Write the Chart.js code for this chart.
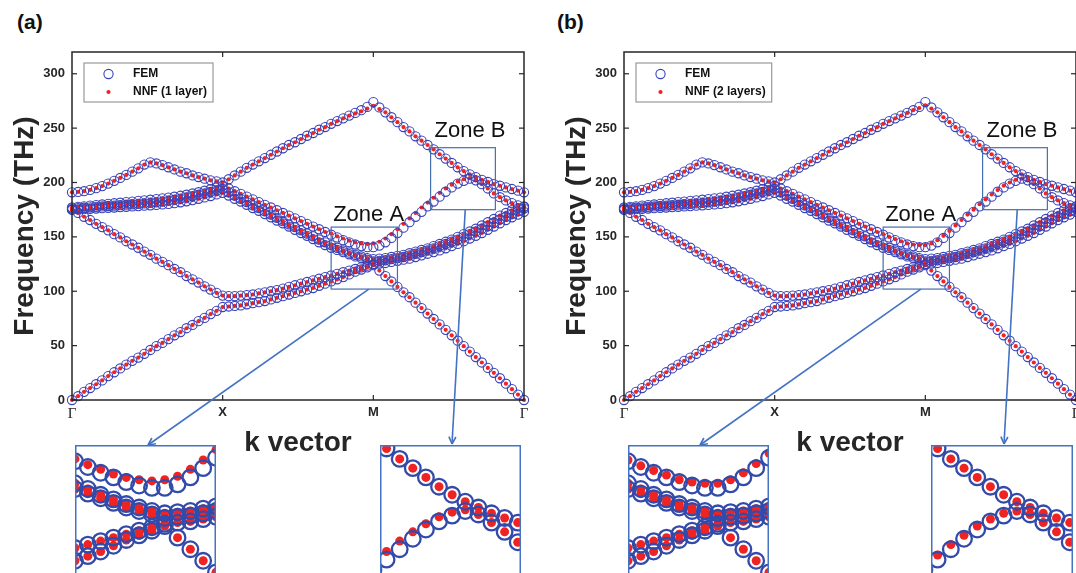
<!DOCTYPE html>
<html>
<head>
<meta charset="utf-8">
<script src="https://cdn.jsdelivr.net/npm/chart.js@4.4.1/dist/chart.umd.min.js"></script>
<style>
  body { margin: 0; background: #fff; width: 1076px; height: 573px; overflow: hidden; position: relative; }
  canvas { position: absolute; }
  .tag { position: absolute; font: bold 21px "Liberation Sans", Arial, sans-serif; color: #111; line-height: 1; }
</style>
</head>
<body>
<div class="tag" style="left:17px;top:11px">(a)</div>
<div class="tag" style="left:557px;top:11px">(b)</div>
<canvas id="mainA" width="540" height="460" style="left:0;top:0"></canvas>
<canvas id="mainB" width="540" height="460" style="left:552px;top:0"></canvas>
<canvas id="insAA" width="141" height="132" style="left:75px;top:445px"></canvas>
<canvas id="insAB" width="141" height="132" style="left:380px;top:445px"></canvas>
<canvas id="insBA" width="141" height="132" style="left:628px;top:445px"></canvas>
<canvas id="insBB" width="142" height="132" style="left:931px;top:445px"></canvas>
<script>
// wave vector along the path Γ-X-M-Γ (each segment = 1, 25 samples per segment)
const kPath = [0, 0.04, 0.08, 0.12, 0.16, 0.2, 0.24, 0.28, 0.32, 0.36, 0.4, 0.44, 0.48, 0.52, 0.56, 0.6, 0.64, 0.68, 0.72, 0.76, 0.8, 0.84, 0.88, 0.92, 0.96,
  1, 1.04, 1.08, 1.12, 1.16, 1.2, 1.24, 1.28, 1.32, 1.36, 1.4, 1.44, 1.48, 1.52, 1.56, 1.6, 1.64, 1.68, 1.72, 1.76, 1.8, 1.84, 1.88, 1.92, 1.96,
  2, 2.04, 2.08, 2.12, 2.16, 2.2, 2.24, 2.28, 2.32, 2.36, 2.4, 2.44, 2.48, 2.52, 2.56, 2.6, 2.64, 2.68, 2.72, 2.76, 2.8, 2.84, 2.88, 2.92, 2.96, 3];
const kTicks = [0, 1, 2, 3];
const kTickLabels = ['Γ', 'X', 'M', 'Γ'];
const freqTicks = [0, 50, 100, 150, 200, 250, 300];

// FEM bands (THz): Γ-X | X-M | M-Γ
const femB1 = [0, 3.5, 7.5, 11, 14.5, 18, 22, 25.5, 29, 32.5, 36, 39, 42.5, 46, 49.5, 52.5, 56, 59.5, 62.5, 66, 69, 72.5, 75.5, 79, 82, 85.5,
  86, 86.5, 87, 88, 89, 90, 91, 92.5, 94, 95.5, 97, 98.5, 100, 101.5, 103, 105, 107, 109, 111, 113, 115.5, 118, 120, 122, 124,
  119, 114, 109, 104, 99, 94.5, 89.5, 84.5, 79.5, 74.5, 69.5, 64.5, 59.5, 54.5, 49.5, 44.5, 39.5, 34.5, 29.5, 25, 20, 15, 10, 5, 0];
const femB2 = [175, 172, 168.5, 165.5, 162, 159, 156, 152.5, 149.5, 146, 143, 140, 136.5, 133.5, 130, 127, 124, 120.5, 117.5, 114, 111, 108, 104.5, 101.5, 98.5, 96,
  95.5, 95.5, 96, 96.5, 97, 98, 99, 100, 101, 102.5, 104, 105.5, 107, 108.5, 110, 111.5, 113, 114.5, 116, 117.5, 119, 120.5, 122, 123.5, 125,
  125.5, 126, 127, 128, 129, 130, 131.5, 133, 134.5, 136, 137.5, 139.5, 141.5, 143.5, 146, 148.5, 151, 153.5, 156.5, 159.5, 162.5, 165.5, 168, 170.5, 173];
const femB3 = [175, 175.2, 175.5, 175.8, 176.1, 176.4, 176.7, 177, 177.4, 177.7, 178, 178.3, 178.7, 179, 179.4, 179.8, 180.3, 181, 181.8, 182.7, 183.8, 185, 186.3, 187.6, 189, 190.5,
  188, 185, 182.5, 179.5, 176.5, 174, 171, 168, 165, 162.5, 159.5, 156.5, 153.5, 151, 148, 145, 142.5, 140, 138, 136, 134, 132, 130.5, 129, 127.5,
  128, 128.5, 129.5, 130.5, 131.5, 133, 134.5, 136, 137.5, 139.5, 141.5, 143.5, 145.5, 147.5, 150, 152.5, 155, 157.5, 160, 163, 166, 168.5, 171, 173.5, 176];
const femB6 = [176, 176.4, 176.8, 177.2, 177.6, 178, 178.4, 178.8, 179.2, 179.6, 180, 180.4, 180.8, 181.3, 181.8, 182.5, 183.3, 184.2, 185.2, 186.3, 187.5, 188.8, 190, 191.3, 192.6, 194,
  191, 188, 185, 182, 179, 176.5, 173.5, 170.5, 167.5, 164.5, 161.5, 159, 156, 153, 150.5, 147.5, 145, 142.5, 140, 137.5, 135.5, 133.5, 132, 130.5, 129.5,
  130, 130.5, 131.5, 132.5, 133.5, 135, 136.5, 138, 139.5, 141.5, 143.5, 145.5, 147.5, 150, 152.5, 155, 157.5, 160.5, 163.5, 166.5, 169.5, 172, 174.5, 176.5, 178];
const femB4 = [177, 177.6, 178.1, 178.7, 179.2, 179.8, 180.3, 180.9, 181.4, 182, 182.5, 183.1, 183.6, 184.2, 184.8, 185.4, 186.1, 186.9, 187.8, 188.8, 189.9, 191.1, 192.4, 193.8, 195.3, 197,
  194.5, 192, 189.5, 187, 184.5, 182, 179.5, 177, 174.5, 172, 169.5, 167, 164.5, 162, 159.5, 157, 154.5, 152, 149.5, 147, 145, 143, 141.5, 140.5, 140.5,
  142, 145, 149, 153.5, 158.5, 163.5, 168.5, 173, 178, 182.5, 187, 191.5, 195.5, 199, 201.5, 203.5, 202, 198.5, 194.5, 190, 186.5, 183.5, 181, 179, 177.5];
const femB5 = [191, 191.3, 192, 193.2, 194.8, 196.7, 199, 201.5, 204.2, 207, 210, 213, 216.5, 218.5, 217.5, 216, 214, 212, 210, 208.5, 206.5, 205, 203.5, 202, 201, 200,
  203, 206.5, 210, 213.5, 216.5, 219.5, 222.5, 225.5, 228.5, 231.5, 234.5, 237, 240, 243, 245.5, 248.5, 251, 254, 256.5, 259, 261.5, 264, 266.5, 269.5, 274,
  269, 264.5, 260, 255.5, 251, 247, 242.5, 238.5, 234.5, 230.5, 226, 222, 218, 214, 210.5, 207.5, 205, 202.5, 200.5, 198.5, 197, 195.5, 194, 192.5, 191];

// NNF bands that visibly differ from FEM (the others sit on the FEM points)
const nnf1B4 = [177, 177.6, 178.1, 178.7, 179.2, 179.8, 180.3, 180.9, 181.4, 182, 182.5, 183.1, 183.6, 184.2, 184.8, 185.4, 186.1, 186.9, 187.8, 188.8, 189.9, 191.1, 192.4, 193.8, 195.3, 197,
  194.5, 192, 189.5, 187, 184.5, 182, 179.5, 177, 174.5, 172, 169.5, 167, 164.5, 162, 159.5, 157, 154.5, 153, 150.5, 148.5, 146.5, 145, 144, 143.5, 144,
  145.5, 148.5, 152.5, 157, 162, 167, 172, 177, 181.5, 186, 190.5, 194.5, 198, 201, 203, 204, 202, 198.5, 194.5, 190, 186.5, 183.5, 181, 179, 177.5];
const nnf1B5 = [191, 191.3, 192, 193.2, 194.8, 196.7, 199, 201.5, 204.2, 207, 210, 213, 216.5, 218.5, 217.5, 216, 214, 212, 210, 208.5, 206.5, 205, 203.5, 202, 201, 200,
  203, 206.5, 210, 213.5, 216.5, 219.5, 222.5, 225.5, 228.5, 231.5, 234.5, 237, 240, 243, 245.5, 248.5, 251, 254, 256.5, 259, 261.5, 263.5, 265.5, 268, 270.5,
  267.5, 264.5, 260, 255.5, 251, 247, 242.5, 238.5, 234.5, 230.5, 226, 222, 218, 214, 210.5, 207.5, 205, 202.5, 200.5, 198.5, 197, 195.5, 194, 192.5, 191];
const nnf2B4 = [177, 177.6, 178.1, 178.7, 179.2, 179.8, 180.3, 180.9, 181.4, 182, 182.5, 183.1, 183.6, 184.2, 184.8, 185.4, 186.1, 186.9, 187.8, 188.8, 189.9, 191.1, 192.4, 193.8, 195.3, 197,
  194.5, 192, 189.5, 187, 184.5, 182, 179.5, 177, 174.5, 172, 169.5, 167, 164.5, 162, 159.5, 157, 154.5, 152.5, 150, 148, 146, 144, 143, 142.5, 142.5,
  144, 147, 151, 155.5, 160.5, 165.5, 170.5, 175, 180, 184.5, 189, 193, 197, 200, 202.5, 203.5, 202, 198.5, 194.5, 190, 186.5, 183.5, 181, 179, 177.5];
const nnf2B5 = [191, 191.3, 192, 193.2, 194.8, 196.7, 199, 201.5, 204.2, 207, 210, 213, 216.5, 218.5, 217.5, 216, 214, 212, 210, 208.5, 206.5, 205, 203.5, 202, 201, 200,
  203, 206.5, 210, 213.5, 216.5, 219.5, 222.5, 225.5, 228.5, 231.5, 234.5, 237, 240, 243, 245.5, 248.5, 251, 254, 256.5, 259, 261.5, 264, 266.5, 268.5, 271,
  268, 264.5, 260, 255.5, 251, 247, 242.5, 238.5, 234.5, 230.5, 226, 222, 218, 214, 210.5, 207.5, 205, 202.5, 200.5, 198.5, 197, 195.5, 194, 192.5, 191];

const femBands = [femB1, femB2, femB3, femB6, femB4, femB5];
const nnfBandsA = [femB1, femB2, femB3, femB6, nnf1B4, nnf1B5];
const nnfBandsB = [femB1, femB2, femB3, femB6, nnf2B4, nnf2B5];

const FONT = '"Liberation Sans", Arial, sans-serif';
const INK = '#262626';
const FEM_BLUE = 'rgb(55,65,185)';
const NNF_RED = 'rgb(240,35,35)';
const LINE_BLUE = 'rgb(68,114,196)';

// zoom windows in data units, with the point their arrow ends on (panel-relative pixels)
const zones = [
  { name: 'Zone A', k: [1.72, 2.16], f: [102, 159], lbl: [2, -6], from: 1.97, to: [148, 445] },
  { name: 'Zone B', k: [2.38, 2.81], f: [175, 232], lbl: [4, -11], from: 2.61, to: [452, 444] }
];

const pairUp = band => kPath.map((k, i) => ({ x: k, y: band[i] }));

function buildSets(nnfBands, inset) {
  const sets = [];
  femBands.forEach(b => sets.push({
    data: pairUp(b), pointStyle: 'circle',
    pointRadius: inset ? 7.8 : 4.6, pointBorderWidth: inset ? 2.3 : 1.1,
    pointBorderColor: inset ? 'rgb(50,75,170)' : FEM_BLUE,
    pointBackgroundColor: 'rgba(0,0,0,0)', clip: inset ? 0 : false
  }));
  nnfBands.forEach(b => sets.push({
    data: pairUp(b), pointStyle: 'circle',
    pointRadius: inset ? 4.5 : 2.1, pointBorderWidth: 0,
    pointBorderColor: NNF_RED, pointBackgroundColor: NNF_RED, clip: inset ? 0 : false
  }));
  return sets;
}

function decor(nnfName) {
  return {
    id: 'decor',
    afterDraw(chart) {
      const { ctx, chartArea: a, scales: { x, y } } = chart;
      const seg = (x1, y1, x2, y2) => { ctx.beginPath(); ctx.moveTo(x1, y1); ctx.lineTo(x2, y2); ctx.stroke(); };
      ctx.save();
      // axes box with inward ticks
      ctx.strokeStyle = INK;
      ctx.lineWidth = 1.5;
      ctx.strokeRect(a.left, a.top, a.right - a.left, a.bottom - a.top);
      ctx.lineWidth = 1.2;
      freqTicks.forEach(v => {
        const py = y.getPixelForValue(v);
        seg(a.left, py, a.left + 5, py);
        seg(a.right, py, a.right - 5, py);
      });
      kTicks.slice(1, -1).forEach(v => {
        const px = x.getPixelForValue(v);
        seg(px, a.bottom, px, a.bottom - 5);
        seg(px, a.top, px, a.top + 5);
      });
      // zone boxes, labels, arrows to the insets
      zones.forEach(z => {
        const l = x.getPixelForValue(z.k[0]), r = x.getPixelForValue(z.k[1]);
        const t = y.getPixelForValue(z.f[1]), b = y.getPixelForValue(z.f[0]);
        ctx.strokeStyle = 'rgb(70,110,175)';
        ctx.lineWidth = 1.2;
        ctx.strokeRect(l, t, r - l, b - t);
        ctx.fillStyle = '#111';
        ctx.font = '22px ' + FONT;
        ctx.textAlign = 'left';
        ctx.textBaseline = 'alphabetic';
        ctx.fillText(z.name, l + z.lbl[0], t + z.lbl[1]);
        const sx = x.getPixelForValue(z.from), [ex, ey] = z.to;
        ctx.strokeStyle = LINE_BLUE;
        ctx.lineWidth = 1.6;
        seg(sx, b, ex, ey);
        const ang = Math.atan2(ey - b, ex - sx);
        [0.45, -0.45].forEach(d => seg(ex, ey, ex - 8 * Math.cos(ang + d), ey - 8 * Math.sin(ang + d)));
      });
      // legend
      ctx.font = 'bold 12px ' + FONT;
      const tw = Math.max(ctx.measureText('FEM').width, ctx.measureText(nnfName).width);
      ctx.fillStyle = '#fff';
      ctx.fillRect(84, 63, 49 + tw + 6, 39);
      ctx.strokeStyle = '#9a9a9a';
      ctx.lineWidth = 1.2;
      ctx.strokeRect(84, 63, 49 + tw + 6, 39);
      ctx.strokeStyle = FEM_BLUE;
      ctx.lineWidth = 1.1;
      ctx.beginPath(); ctx.arc(108.5, 74, 4.6, 0, Math.PI * 2); ctx.stroke();
      ctx.fillStyle = NNF_RED;
      ctx.beginPath(); ctx.arc(108.5, 92, 2.1, 0, Math.PI * 2); ctx.fill();
      ctx.fillStyle = '#111';
      ctx.textBaseline = 'middle';
      ctx.fillText('FEM', 133, 74);
      ctx.fillText(nnfName, 133, 92);
      ctx.restore();
    }
  };
}

const insetBorder = {
  id: 'insetBorder',
  afterDraw(chart) {
    const { ctx, width, height } = chart;
    ctx.save();
    ctx.strokeStyle = LINE_BLUE;
    ctx.lineWidth = 1.5;
    ctx.strokeRect(0.75, 0.75, width - 1.5, height - 1.5);
    ctx.restore();
  }
};

function mainChart(id, nnfBands, nnfName) {
  const tickFont = { family: FONT, size: 13, weight: 'bold' };
  // Γ is set in a serif face, the other path labels in bold sans
  const kFont = c => kTickLabels[c.index] === 'Γ'
    ? { family: '"Liberation Serif", "DejaVu Serif", serif', size: 15, weight: 'normal' }
    : tickFont;
  return new Chart(document.getElementById(id), {
    type: 'scatter',
    data: { datasets: buildSets(nnfBands, false) },
    options: {
      responsive: false, animation: false, events: [],
      layout: { autoPadding: false, padding: { left: 0, right: 16, top: 52, bottom: 0 } },
      plugins: { legend: { display: false }, tooltip: { enabled: false } },
      scales: {
        x: {
          type: 'linear', min: 0, max: 3,
          grid: { display: false, drawTicks: false }, border: { display: false },
          afterBuildTicks: s => { s.ticks = kTicks.map(v => ({ value: v })); },
          afterFit: s => { s.height = 60; },
          ticks: { callback: (v, i) => kTickLabels[i], font: kFont, color: INK, padding: 5, maxRotation: 0, autoSkip: false },
          title: { display: true, text: 'k vector', color: INK, font: { family: FONT, size: 28, weight: 'bold' }, padding: { top: 0, bottom: 0 } }
        },
        y: {
          type: 'linear', min: 0, max: 320,
          grid: { display: false, drawTicks: false }, border: { display: false },
          afterBuildTicks: s => { s.ticks = freqTicks.map(v => ({ value: v })); },
          afterFit: s => { s.width = 72; },
          ticks: { font: tickFont, color: INK, padding: 7 },
          title: { display: true, text: 'Frequency (THz)', color: INK, font: { family: FONT, size: 28, weight: 'bold' }, padding: { top: 8, bottom: 0 } }
        }
      }
    },
    plugins: [decor(nnfName)]
  });
}

function insetChart(id, nnfBands, zone) {
  return new Chart(document.getElementById(id), {
    type: 'scatter',
    data: { datasets: buildSets(nnfBands, true) },
    options: {
      responsive: false, animation: false, events: [],
      layout: { autoPadding: false, padding: 0 },
      plugins: { legend: { display: false }, tooltip: { enabled: false } },
      scales: {
        x: { display: false, min: zone.k[0], max: zone.k[1] },
        y: { display: false, min: zone.f[0], max: zone.f[1] }
      }
    },
    plugins: [insetBorder]
  });
}

mainChart('mainA', nnfBandsA, 'NNF (1 layer)');
mainChart('mainB', nnfBandsB, 'NNF (2 layers)');
insetChart('insAA', nnfBandsA, zones[0]);
insetChart('insAB', nnfBandsA, zones[1]);
insetChart('insBA', nnfBandsB, zones[0]);
insetChart('insBB', nnfBandsB, zones[1]);
</script>
</body>
</html>
